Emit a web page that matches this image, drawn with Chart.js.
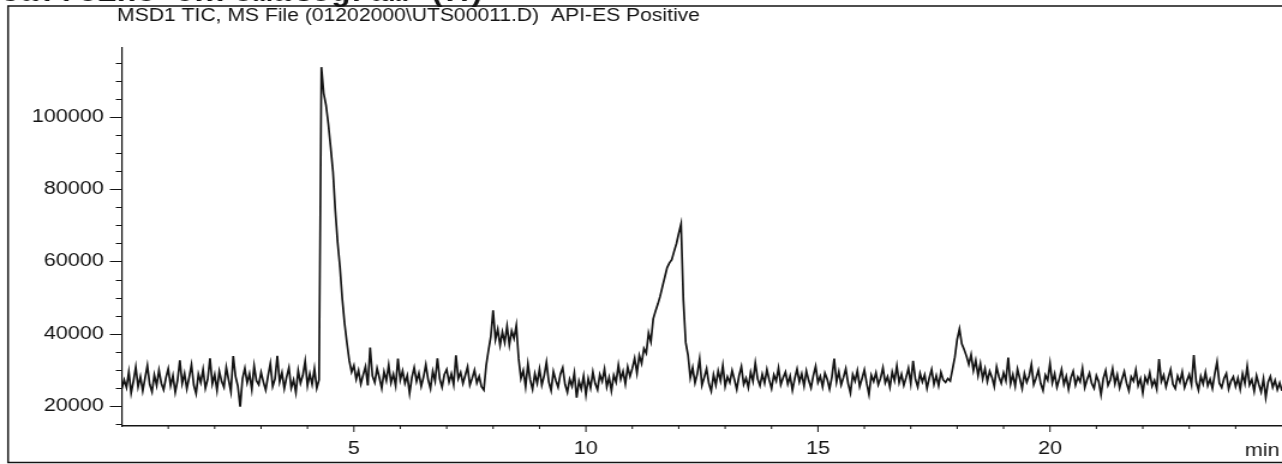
<!DOCTYPE html>
<html>
<head>
<meta charset="utf-8">
<script src="https://cdn.jsdelivr.net/npm/chart.js@4.4.0/dist/chart.umd.min.js"></script>
<style>
  html, body { margin: 0; padding: 0; background: #fff; overflow: hidden; }
</style>
</head>
<body>
<!-- drawn at 1068 wide and shown at 1282: the printout is wide-aspect -->
<canvas id="tic" width="1068" height="464" style="width:1282px;height:464px"></canvas>
<script>
const sampleTitle = 'Caffeine chromatogram (A)';
const runTitle = 'MSD1 TIC, MS File (01202000\\UTS00011.D)  API-ES Positive';

// one scan every 0.05 min from 0 to 25 min, TIC in thousands of counts
const scanStep = 0.05;
const ticThousands = [
  24.8, 27.2, 25.1, 29.4, 23.6, 26.9, 30.8, 25.3, 28.1, 24.2, 27.7, 31.2, 26.0, 23.9, 28.6, 25.7, 29.9, 26.3, 24.5, 27.8,
  30.3, 25.6, 28.4, 23.8, 27.1, 32.6, 26.2, 29.0, 24.7, 27.9, 31.4, 25.8, 23.4, 28.8, 26.5, 30.1, 24.9, 27.4, 33.2, 26.1,
  28.7, 24.3, 29.6, 26.8, 25.2, 30.7, 27.3, 24.0, 33.8, 28.2, 25.5, 19.8, 27.6, 30.4, 26.4, 28.9, 24.6, 31.1, 27.0, 25.9,
  29.3, 26.6, 24.4, 28.3, 31.7, 25.4, 27.5, 33.9, 26.7, 29.2, 24.8, 28.0, 30.6, 25.0, 27.2, 23.7, 29.8, 26.3, 28.5, 32.4,
  25.6, 28.9, 26.0, 30.3, 24.9, 27.3, 113.8, 106.5, 103.2, 98.0, 91.5, 84.8, 74.0, 65.2, 58.4, 49.6, 42.8, 37.5, 32.6, 29.4,
  31.2, 27.4, 29.8, 26.1, 28.6, 30.9, 25.7, 36.2, 28.3, 26.5, 30.4, 27.8, 24.9, 29.5, 27.0, 31.3, 26.4, 28.8, 25.6, 33.1,
  27.2, 29.7, 26.3, 28.4, 23.5, 27.9, 30.6, 26.8, 29.1, 25.4, 28.0, 31.4, 27.3, 24.8, 29.6, 26.9, 33.2, 27.5, 25.2, 28.7,
  30.1, 26.6, 28.9, 25.9, 34.0, 27.6, 29.3, 26.2, 28.5, 30.8, 25.8, 27.7, 29.9, 26.4, 28.2, 25.3, 24.4, 31.2, 35.4, 39.2,
  46.5, 38.4, 41.2, 36.8, 40.5, 37.6, 42.1, 36.9, 40.8, 38.7, 42.3, 33.1, 27.6, 29.8, 25.4, 31.6, 27.2, 24.6, 28.9, 26.3,
  30.2, 25.8, 28.4, 32.1, 26.7, 24.3, 29.5, 27.1, 25.2, 28.8, 30.6, 26.0, 23.8, 27.4, 25.5, 29.1, 22.3, 26.9, 24.7, 28.3,
  23.1, 27.6, 25.0, 29.4, 26.2, 24.5, 28.7, 26.8, 30.2, 25.3, 27.9, 24.2, 28.5, 26.6, 31.3, 27.4, 29.6, 26.1, 30.8, 28.2,
  30.4, 33.2, 29.1, 34.0, 31.8, 35.9, 34.6, 40.2, 37.8, 44.1, 46.3, 48.2, 50.4, 53.1, 55.7, 58.3, 59.6, 60.5, 62.8, 64.9,
  67.8, 70.4, 49.3, 37.6, 34.1, 27.8, 30.6, 26.4, 28.9, 33.0, 25.7, 27.9, 30.3, 26.2, 24.1, 28.6, 25.8, 29.7, 27.0, 31.2,
  25.4, 28.1, 26.5, 29.8, 27.3, 24.6, 28.4, 30.9, 26.0, 27.7, 25.1, 29.3, 26.8, 31.9, 27.5, 25.6, 28.8, 26.3, 30.1, 27.2,
  24.8, 28.6, 26.9, 30.5, 25.9, 27.8, 29.4, 26.1, 28.3, 24.4, 27.6, 30.2, 26.7, 28.9, 25.5, 29.7, 27.1, 25.0, 28.4, 31.0,
  26.5, 28.2, 25.3, 29.1, 27.4, 24.7, 28.0, 33.1, 26.6, 29.5, 25.8, 27.9, 30.3, 26.2, 23.6, 28.7, 26.9, 29.8, 25.4, 27.6,
  30.0, 26.3, 23.2, 28.5, 26.8, 29.2, 25.9, 27.7, 30.6, 26.4, 28.1, 25.2, 29.4, 27.0, 31.1, 26.5, 28.8, 25.7, 27.9, 30.4,
  26.2, 32.5, 27.4, 25.3, 29.0, 26.7, 28.6, 24.9, 27.8, 30.1, 26.0, 28.4, 25.6, 29.3, 27.2, 26.5, 27.6, 26.9, 30.2, 33.5,
  38.4, 41.3, 37.2, 35.6, 33.8, 31.5, 34.2, 29.8, 32.6, 28.4, 31.7, 27.5, 30.3, 26.8, 29.6, 27.9, 25.4, 30.8, 28.1, 26.3,
  29.2, 27.0, 33.4, 26.1, 28.7, 25.5, 30.2, 27.6, 24.8, 29.0, 26.6, 28.3, 31.5, 25.9, 27.7, 29.9, 26.2, 24.3, 28.5, 27.1,
  31.8, 26.4, 28.9, 25.2, 27.5, 30.1, 26.0, 28.2, 24.6, 27.8, 29.6, 25.8, 28.0, 26.7, 30.4, 25.1, 27.3, 29.1, 26.2, 24.9,
  28.4, 26.8, 23.1, 27.6, 29.8, 25.7, 27.2, 30.3, 26.1, 28.6, 25.0, 27.4, 29.5, 26.3, 24.2, 28.1, 26.9, 30.0, 25.6, 27.5,
  23.6, 28.0, 26.4, 29.2, 25.5, 27.1, 24.7, 33.0, 26.8, 28.5, 25.3, 27.8, 30.1, 26.0, 24.8, 28.3, 26.6, 29.4, 25.1, 27.0,
  28.7, 25.9, 34.1, 26.7, 24.4, 28.2, 26.1, 29.3, 25.6, 27.4, 24.9, 28.8, 32.2, 26.3, 25.1, 27.6, 29.0, 24.7, 26.9, 28.1,
  25.4, 27.7, 24.6, 28.9, 26.2, 31.0, 25.8, 27.3, 24.1, 28.4, 26.0, 23.9, 27.5, 22.4, 26.6, 28.2, 25.2, 27.1, 24.5, 26.4,
  24.2
];

// axes
const timeMin = 0, timeMax = 25;
const timeLabels = [5, 10, 15, 20];
const abundMin = 14450, abundMax = 119100;
const abundLabels = [20000, 40000, 60000, 80000, 100000];
const abundMinorStep = 5000;

const ink = '#141414';
const sansFont = '"Liberation Sans", Arial, sans-serif';

// tick marks, frame and header text
const printout = {
  id: 'printout',
  afterDraw(chart) {
    const { ctx, chartArea: area, scales: { x, y } } = chart;
    ctx.save();
    ctx.strokeStyle = ink;
    ctx.fillStyle = ink;

    ctx.lineWidth = 1;
    ctx.beginPath();
    for (let v = abundMinorStep * Math.ceil(abundMin / abundMinorStep); v <= abundMax; v += abundMinorStep) {
      const py = Math.round(y.getPixelForValue(v)) + 0.5;
      const len = abundLabels.includes(v) ? 10 : 5;
      ctx.moveTo(area.left - len, py);
      ctx.lineTo(area.left, py);
    }
    for (let t = 1; t < timeMax; t++) {
      const px = x.getPixelForValue(t);
      const len = timeLabels.includes(t) ? 6 : 3;
      ctx.moveTo(px, area.bottom);
      ctx.lineTo(px, area.bottom + len);
    }
    ctx.stroke();

    // time unit sits at the end of the axis
    ctx.font = '18px ' + sansFont;
    ctx.textAlign = 'right';
    ctx.textBaseline = 'alphabetic';
    ctx.fillText('min', 1066, 456);

    // report frame
    ctx.lineWidth = 1.5;
    ctx.strokeRect(6.7, 6, 1080, 456.5);

    ctx.textAlign = 'left';
    ctx.font = '17.6px ' + sansFont;
    ctx.fillText(runTitle, 97.5, 21);

    ctx.font = 'bold 27px "Liberation Mono", "Courier New", monospace';
    ctx.fillText(sampleTitle, 0, 1);
    ctx.restore();
  }
};

new Chart(document.getElementById('tic'), {
  type: 'line',
  data: {
    datasets: [{
      data: ticThousands.map((v, i) => ({ x: i * scanStep, y: v * 1000 })),
      borderColor: ink,
      borderWidth: 1.7,
      pointRadius: 0,
      tension: 0,
      fill: false
    }]
  },
  options: {
    responsive: false,
    animation: false,
    events: [],
    layout: { padding: { top: 48, left: 0, right: 0, bottom: 0 } },
    plugins: {
      legend: { display: false },
      tooltip: { enabled: false }
    },
    scales: {
      x: {
        type: 'linear',
        min: timeMin,
        max: timeMax,
        afterBuildTicks: s => { s.ticks = timeLabels.map(v => ({ value: v })); },
        afterFit: s => { s.height = 38; },
        grid: { display: false, drawTicks: false },
        border: { display: true, color: ink, width: 1.4 },
        ticks: {
          autoSkip: false,
          maxRotation: 0,
          padding: 12,
          color: ink,
          font: { family: sansFont, size: 18 }
        }
      },
      y: {
        type: 'linear',
        min: abundMin,
        max: abundMax,
        afterBuildTicks: s => { s.ticks = abundLabels.map(v => ({ value: v })); },
        afterFit: s => { s.width = 101.5; },
        grid: { display: false, drawTicks: false },
        border: { display: true, color: ink, width: 1.2 },
        ticks: {
          autoSkip: false,
          padding: 15,
          color: ink,
          font: { family: sansFont, size: 18 },
          callback: v => String(v)
        }
      }
    }
  },
  plugins: [printout]
});
</script>
</body>
</html>
